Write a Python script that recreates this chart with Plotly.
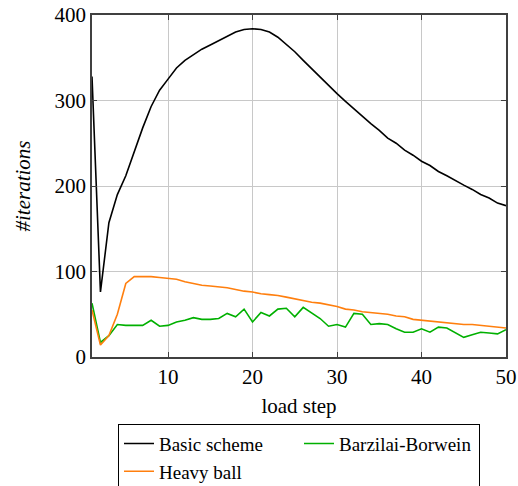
import plotly.graph_objects as go

load_step = list(range(1, 51))

basic_scheme = [328, 76, 157, 190, 212, 240, 268, 293, 312, 325,
                338, 347, 354, 360, 365, 370, 375, 380, 383, 384,
                383, 380, 374, 366, 357, 347, 337, 327, 317, 308,
                299, 290, 281, 273, 265, 256, 250, 242, 236, 229,
                224, 217, 212, 206, 201, 196, 190, 186, 180, 177]

barzilai_borwein = [63, 17, 25, 38, 37, 37, 37, 43, 36, 37,
                    41, 43, 46, 44, 44, 45, 51, 47, 56, 41,
                    52, 48, 56, 57, 47, 58, 52, 45, 36, 38,
                    35, 51, 50, 38, 39, 38, 33, 29, 29, 33,
                    29, 35, 34, 29, 23, 26, 29, 28, 27, 32]

heavy_ball = [55, 14, 25, 50, 86, 94, 94, 94, 93, 92,
              91, 88, 86, 84, 83, 82, 81, 79, 77, 76,
              74, 73, 72, 70, 68, 66, 64, 63, 61, 59,
              56, 55, 53, 52, 51, 50, 48, 47, 44, 43,
              42, 41, 40, 39, 38, 38, 37, 36, 35, 34]

x_ticks = [10, 20, 30, 40, 50]
y_ticks = [0, 100, 200, 300, 400]

FONT = "Liberation Serif"
FS = 21
LFS = 19

fig = go.Figure()
fig.add_trace(go.Scatter(x=load_step, y=basic_scheme, mode="lines",
                         name="Basic scheme", line=dict(color="black", width=1.6)))
fig.add_trace(go.Scatter(x=load_step, y=barzilai_borwein, mode="lines",
                         name="Barzilai-Borwein", line=dict(color="#00b000", width=1.6)))
fig.add_trace(go.Scatter(x=load_step, y=heavy_ball, mode="lines",
                         name="Heavy ball", line=dict(color="#ff7f0e", width=1.6)))

axis_common = dict(
    showgrid=True, gridcolor="#c8c8c8", gridwidth=1,
    showline=True, linecolor="#404040", linewidth=1.5, mirror="ticks",
    ticks="inside", ticklen=5, tickcolor="#404040", tickwidth=1,
    zeroline=False,
    tickfont=dict(family=FONT, size=FS, color="black"),
)

fig.update_layout(
    template="none",
    width=518, height=486,
    margin=dict(l=92, r=12, t=15, b=129, autoexpand=False),
    paper_bgcolor="white", plot_bgcolor="white",
    font=dict(family=FONT, size=FS, color="black"),
    showlegend=True,
    legend=dict(
        orientation="h", x=0.5, xanchor="center", xref="paper",
        y=-0.195, yanchor="top",
        bordercolor="black", borderwidth=1,
        font=dict(family=FONT, size=LFS, color="black"),
        entrywidth=135, entrywidthmode="pixels",
        itemwidth=30, tracegroupgap=0,
    ),
)
fig.update_xaxes(range=[1, 50], tickvals=x_ticks,
                 title=dict(text="load step", font=dict(family=FONT, size=FS), standoff=10),
                 **axis_common)
fig.update_yaxes(range=[0, 400], tickvals=y_ticks,
                 title=dict(text="<i>#iterations</i>", font=dict(family=FONT, size=FS), standoff=18),
                 **axis_common)

fig.write_html("out.html")
